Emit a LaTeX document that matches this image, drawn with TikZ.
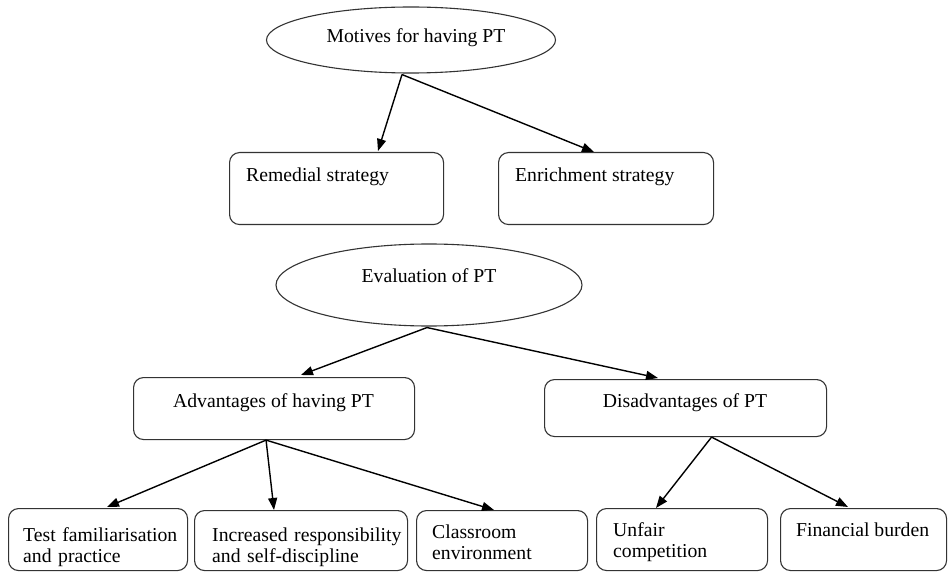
\documentclass[tikz,border=0pt]{standalone}
\usepackage{fontspec}
\setmainfont{Liberation Serif}
\usetikzlibrary{shapes.geometric,arrows.meta,calc}
\begin{document}
\begin{tikzpicture}[x=1pt,y=-1pt,
  font=\fontsize{19.7}{21}\selectfont,
  box/.style={draw=black!80, line width=1.1pt, rounded corners=10pt, inner sep=0pt, anchor=north west},
  ell/.style={draw=black!80, line width=1.1pt, ellipse, inner sep=0pt},
  txt/.style={inner sep=0pt, text=black},
  sl/.style={txt, anchor=base west},
  cl/.style={txt, anchor=base},
  ml/.style={txt, anchor=base west, text width=200pt, align=left},
  arr/.style={line width=1.4pt, -{Triangle[length=12pt,width=9pt]}}]
\useasboundingbox (0,0) rectangle (948,572);

% ellipses
\node[ell, minimum width=289pt, minimum height=66pt] (mot) at (411,40) {};
\node[cl] (mott) at (416,43) {Motives for having PT};
\node[ell, minimum width=306pt, minimum height=82pt] (eva) at (429,285) {};
\node[cl] (evat) at (429,283) {Evaluation of PT};

% second row
\node[box, minimum width=214pt, minimum height=72pt] (rem) at (229,152) {};
\node[sl] (remt) at (246,182) {Remedial strategy};
\node[box, minimum width=215pt, minimum height=72pt] (enr) at (498,152) {};
\node[sl] (enrt) at (515,182) {Enrichment strategy};

% third row
\node[box, minimum width=281pt, minimum height=62pt] (adv) at (133,377) {};
\node[cl] (advt) at (273.5,407) {Advantages of having PT};
\node[box, minimum width=282pt, minimum height=57pt] (dis) at (544,379) {};
\node[cl] (dist) at (685,407) {Disadvantages of PT};

% bottom row
\node[box, minimum width=179pt, minimum height=62pt] (tes) at (8,508) {};
\node[ml] (test) at (23,541) {Test familiarisation\\and practice};
\node[box, minimum width=213pt, minimum height=60pt] (inc) at (194,510) {};
\node[ml] (inct) at (212,541) {Increased responsibility\\and self-discipline};
\node[box, minimum width=171pt, minimum height=60pt] (cla) at (416,510) {};
\node[ml] (clat) at (432,538) {Classroom\\environment};
\node[box, minimum width=171pt, minimum height=62pt] (unf) at (596,508) {};
\node[ml] (unft) at (613,536) {Unfair\\competition};
\node[box, minimum width=166pt, minimum height=62pt] (fin) at (780,508) {};
\node[sl] (fint) at (796,536) {Financial burden};

% connector end points
\coordinate (mots) at ($(mot.south)+(-9,1)$);
\coordinate (evas) at ($(eva.south)+(-2,1)$);
\coordinate (advs) at ($(adv.south)+(-8,0)$);
\coordinate (diss) at ($(dis.south)+(26,0)$);

\draw[arr] (mots) -- ($(rem.north west)+(149,-1)$);
\draw[arr] (mots) -- ($(enr.north west)+(96,0)$);
\draw[arr] (evas) -- ($(adv.north west)+(168,-2)$);
\draw[arr] (evas) -- ($(dis.north west)+(114,-1)$);
\draw[arr] (advs) -- ($(tes.north west)+(99,-1)$);
\draw[arr] (advs) -- ($(inc.north west)+(80,0)$);
\draw[arr] (advs) -- ($(cla.north west)+(78,0)$);
\draw[arr] (diss) -- ($(unf.north west)+(60,0)$);
\draw[arr] (diss) -- ($(fin.north west)+(68,-1)$);
\end{tikzpicture}
\end{document}
